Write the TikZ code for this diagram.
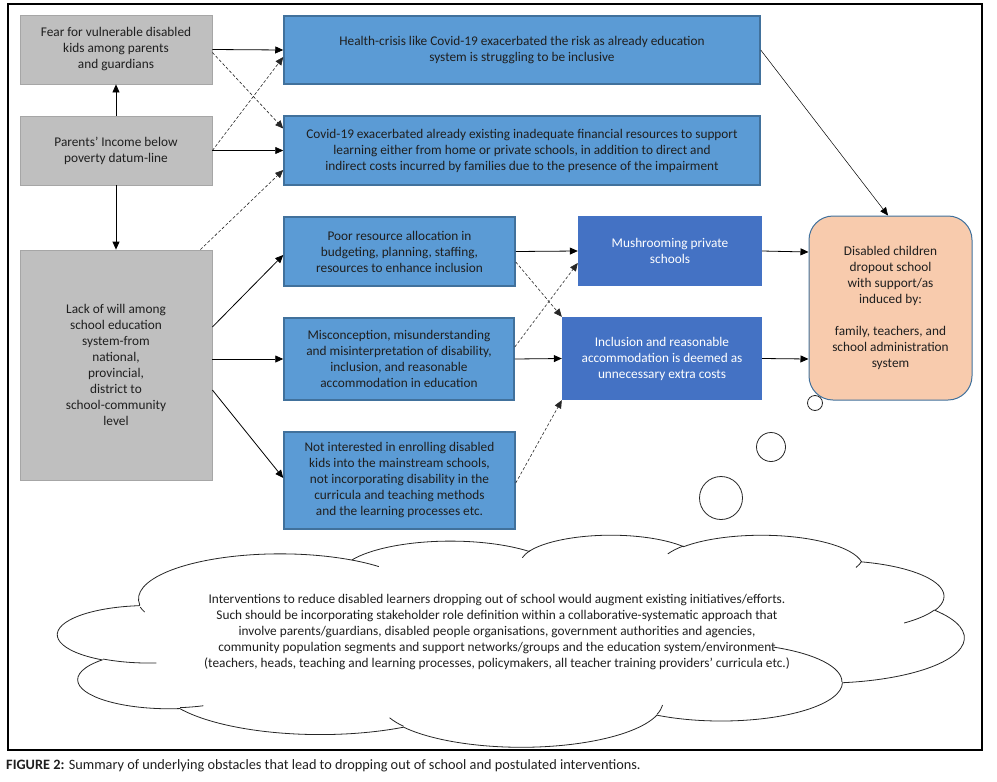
\documentclass[tikz,border=0pt]{standalone}
\usepackage{fontspec}
\setmainfont{Carlito}
\usetikzlibrary{arrows.meta,calc}
\definecolor{greyF}{HTML}{BFBFBF}
\definecolor{greyL}{HTML}{A6A6A6}
\definecolor{lbfill}{HTML}{5B9BD5}
\definecolor{lbline}{HTML}{41719C}
\definecolor{dbfill}{HTML}{4472C4}
\definecolor{orfill}{HTML}{F8CBAD}
\definecolor{txt}{HTML}{1F1F1F}
\newcommand\csx{20.9722}
\newcommand\csy{4.9074}
\newcommand\cL{58}
\newcommand\cT{534.5}
\newcommand\mkarc[5]{%
  \pgfmathsetmacro\mkA{atan2(#2*sin(#4),#3*cos(#4))}%
  \pgfmathsetmacro\mkB{atan2(#2*sin(#4+#5),#3*cos(#4+#5))}%
  \pgfmathsetmacro\mkD{Mod(\mkB-\mkA,360)}%
  \pgfmathsetmacro\mkX{#2*\csx}%
  \pgfmathsetmacro\mkY{#3*\csy}%
  \expandafter\xdef\csname cl#1\endcsname{ arc[x radius=\mkX, y radius=\mkY, start angle=\mkA, delta angle=\mkD]}%
}
\begin{document}
\begin{tikzpicture}[x=1pt,y=-1pt,
  every node/.style={font=\fontsize{13.3}{16}\selectfont, align=center, inner sep=0pt},
  gbox/.style={draw=greyL, fill=greyF, line width=0.8pt, text=txt},
  lbbox/.style={draw=lbline, fill=lbfill, line width=1.5pt, text=txt},
  dbbox/.style={fill=dbfill, text=white},
  obox/.style={draw=lbline, fill=orfill, line width=1pt, rounded corners=24pt, text=txt},
  arr/.style={-{Triangle[length=8pt,width=7pt]}, line width=0.8pt, black},
  darr/.style={-{Triangle[length=8pt,width=7pt]}, line width=0.6pt, black!85, dash pattern=on 3pt off 2pt},
  thinarr/.style={-{Triangle[length=8pt,width=7pt]}, line width=0.5pt, black},
  bub/.style={circle, draw=black!85, fill=white, line width=0.8pt, inner sep=0pt},
  cloudline/.style={draw=black!85, line width=0.8pt}
]
\useasboundingbox (0,0) rectangle (997,782);
\draw[line width=1.2pt] (8,4) rectangle (982,750);

% boxes
\node[gbox, minimum width=192pt, minimum height=69pt] (fear) at (116,49.5) {Fear for vulnerable disabled\\kids among parents\\and guardians};
\node[gbox, minimum width=192pt, minimum height=69pt] (income) at (116,150.5) {Parents’ Income below\\poverty datum-line};
\node[gbox, minimum width=192pt, minimum height=230pt] (lack) at (116,365) {Lack of will among\\school education\\system-from\\national,\\provincial,\\district to\\school-community\\level};
\node[lbbox, minimum width=476pt, minimum height=68pt] (health) at (522,50) {Health-crisis like Covid-19 exacerbated the risk as already education\\system is struggling to be inclusive};
\node[lbbox, minimum width=476pt, minimum height=69pt] (covid) at (522,150.5) {Covid-19 exacerbated already existing inadequate financial resources to support\\learning either from home or private schools, in addition to direct and\\indirect costs incurred by families due to the presence of the impairment};
\node[lbbox, minimum width=231pt, minimum height=69pt] (poor) at (399.5,251.5) {Poor resource allocation in\\budgeting, planning, staffing,\\resources to enhance inclusion};
\node[lbbox, minimum width=230pt, minimum height=82pt] (misc) at (399,359) {Misconception, misunderstanding\\and misinterpretation of disability,\\inclusion, and reasonable\\accommodation in education};
\node[lbbox, minimum width=231pt, minimum height=97pt] (notint) at (399.5,480.5) {Not interested in enrolling disabled\\kids into the mainstream schools,\\not incorporating disability in the\\curricula and teaching methods\\and the learning processes etc.};
\node[dbbox, minimum width=184pt, minimum height=70pt] (mush) at (670,251) {Mushrooming private\\schools};
\node[dbbox, minimum width=200pt, minimum height=83pt] (incl) at (662,358.5) {Inclusion and reasonable\\accommodation is deemed as\\unnecessary extra costs};
\node[obox, minimum width=163pt, minimum height=184pt] (drop) at (890.5,308) {Disabled children\\dropout school\\with support/as\\induced by:\\[16pt]family, teachers, and\\school administration\\system};

% connectors
\draw[arr] (fear.east) -- (health.west);
\draw[darr] ($(fear.east)+(0,3)$) -- ($(covid.west)+(0,-22)$);
\draw[darr] (income.east) -- ($(health.west)+(0,7)$);
\draw[arr] (income.east) -- (covid.west);
\draw[arr] (income.north) -- (fear.south);
\draw[arr] (income.south) -- (lack.north);
\draw[darr] ($(lack.north east)+(-12,0)$) -- ($(covid.west)+(0,19.5)$);
\draw[arr] ($(lack.east)+(0,-38)$) -- ($(poor.west)+(0,3.5)$);
\draw[arr] ($(lack.east)+(0,-6)$) -- (misc.west);
\draw[arr] ($(lack.east)+(0,25)$) -- ($(notint.west)+(0,-2.5)$);
\draw[arr] (poor.east) -- (mush.west);
\draw[darr] ($(poor.east)+(0,10.5)$) -- (incl.north west);
\draw[darr] ($(misc.east)+(0,-12)$) -- ($(mush.west)+(0,12)$);
\draw[arr] (misc.east) -- (incl.west);
\draw[darr] ($(notint.east)+(0,2.5)$) -- (incl.south west);
\draw[arr] (mush.east) -- ($(drop.west)+(0,-56)$);
\draw[arr] (incl.east) -- ($(drop.west)+(0,51)$);
\draw[thinarr] (health.east) -- ($(drop.north)+(-2.5,0)$);

% cloud
\mkarc{a}{6.753}{9.190}{-190.4875}{123.7805}
\mkarc{b}{5.333}{7.267}{-144.1024}{89.9452}
\mkarc{c}{4.365}{5.945}{-145.8079}{99.7230}
\mkarc{d}{4.857}{6.595}{-130.9861}{117.2417}
\mkarc{e}{5.333}{7.273}{-78.7089}{109.0269}
\mkarc{f}{6.775}{9.220}{-46.2673}{130.2690}
\mkarc{g}{5.785}{7.867}{0.6250}{114.0333}
\mkarc{h}{6.752}{9.215}{22.4516}{115.1726}
\mkarc{i}{7.720}{10.543}{66.2426}{75.7110}
\mkarc{j}{4.360}{5.918}{-274.9421}{146.7356}
\mkarc{k}{4.345}{5.945}{-246.8285}{152.5189}
\mkarc{ta}{4.345}{5.945}{86.742}{26.4295}
\mkarc{tb}{4.360}{5.918}{73.6105}{11.4475}
\mkarc{tc}{6.752}{9.215}{137.6241}{14.0811}
\mkarc{td}{6.752}{9.215}{6.4533}{15.9984}
\mkarc{te}{5.785}{7.867}{-70.2924}{70.9174}
\mkarc{tf}{5.333}{7.273}{30.3180}{27.7515}
\mkarc{tg}{4.857}{6.595}{13.7443}{14.8589}
\mkarc{th}{4.857}{6.595}{-149.1815}{18.1954}
\mkarc{ti}{4.365}{5.945}{-163.4943}{17.6864}
\mkarc{tj}{6.753}{9.190}{-66.7070}{12.3194}
\mkarc{tk}{6.753}{9.190}{155.0041}{8.2548}
\draw[cloudline, fill=white] ({\cL+3.900*\csx},{\cT+14.370*\csy}) \cla \clb \clc \cld \cle \clf \clg \clh \cli \clj \clk -- cycle;
\draw[cloudline]
  ({\cL+4.693*\csx},{\cT+26.177*\csy}) \clta
  ({\cL+6.928*\csx},{\cT+34.899*\csy}) \cltb
  ({\cL+16.478*\csx},{\cT+39.090*\csy}) \cltc
  ({\cL+28.827*\csx},{\cT+34.751*\csy}) \cltd
  ({\cL+34.129*\csx},{\cT+22.954*\csy}) \clte
  ({\cL+41.798*\csx},{\cT+15.354*\csy}) \cltf
  ({\cL+38.324*\csx},{\cT+5.426*\csy}) \cltg
  ({\cL+29.078*\csx},{\cT+3.952*\csy}) \clth
  ({\cL+22.141*\csx},{\cT+4.720*\csy}) \clti
  ({\cL+14.000*\csx},{\cT+5.192*\csy}) \cltj
  ({\cL+4.127*\csx},{\cT+15.789*\csy}) \cltk;
\node[text=txt] (cloudtext) at (497,632) {Interventions to reduce disabled learners dropping out of school would augment existing initiatives/efforts.\\Such should be incorporating stakeholder role definition within a collaborative-systematic approach that\\involve parents/guardians, disabled people organisations, government authorities and agencies,\\community population segments and support networks/groups and the education system/environment\\(teachers, heads, teaching and learning processes, policymakers, all teacher training providers' curricula etc.)};

% thought bubbles
\node[bub, minimum size=15pt] (b1) at (815,403) {};
\node[bub, minimum size=29pt] (b2) at (771,447) {};
\node[bub, minimum size=43pt] (b3) at (721,498) {};

% caption
\node[anchor=base west, font=\fontsize{14.3}{16}\selectfont, text=txt] (cap) at (6,769) {\textbf{FIGURE 2:} Summary of underlying obstacles that lead to dropping out of school and postulated interventions.};
\end{tikzpicture}
\end{document}
